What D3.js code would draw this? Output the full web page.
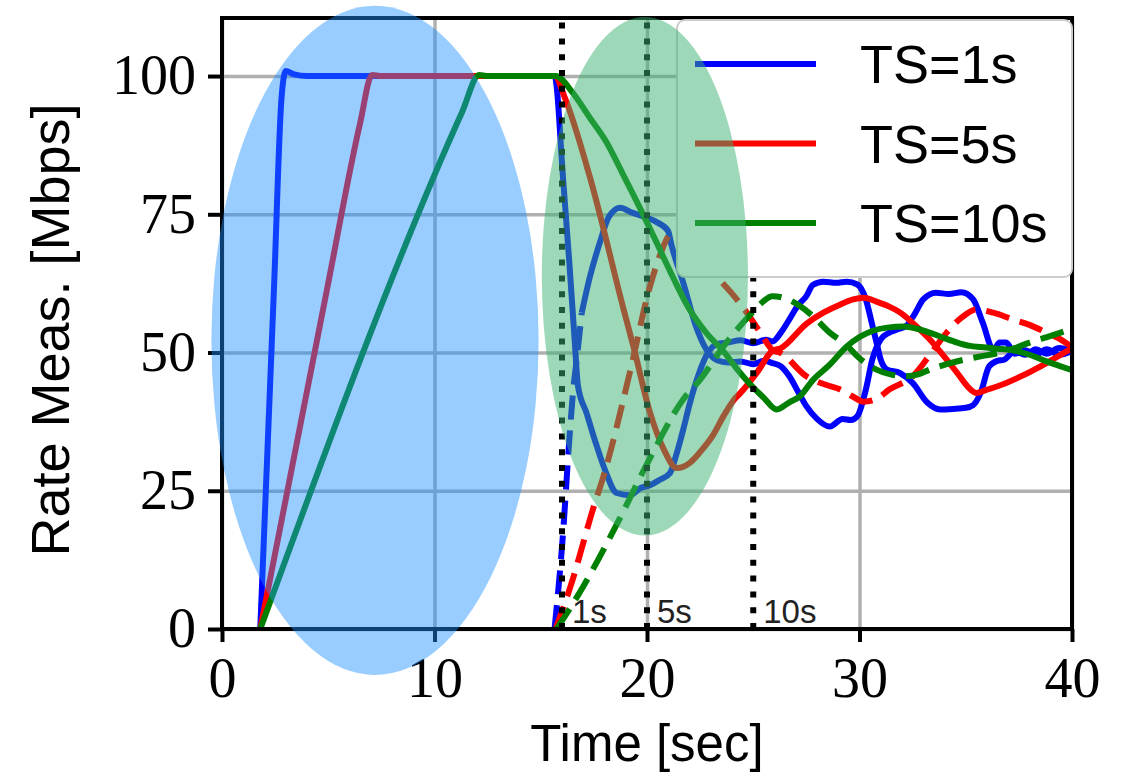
<!DOCTYPE html>
<html>
<head>
<meta charset="utf-8">
<script src="https://cdn.jsdelivr.net/npm/d3@7"></script>
<style>
  body { margin: 0; background: #fff; }
  svg { display: block; }
</style>
</head>
<body>
<div class="chart"></div>
<script>
var svgWidth = 1122;
var svgHeight = 780;

var margin = { top: 18, right: 50, bottom: 151, left: 222 };
var width = svgWidth - margin.left - margin.right;
var height = svgHeight - margin.top - margin.bottom;

// tick values
var xTicks = [0, 10, 20, 30, 40];
var yTicks = [0, 25, 50, 75, 100];

// [time (s), rate (Mbps)]
var blueFlow1 = [[1.8,0],[2.45,62],[2.8,96],[3.0,100.9],[3.4,100.3],[4.0,100],[15.65,100],[16.06,81],[16.35,66],[16.6,52],[16.75,44],[17.16,39],[17.6,33.5],[18.02,28.8],[18.57,24.6],[19.2,24.2],[19.7,25.5],[20.14,26],[20.6,27],[21.08,28.2],[21.4,31.8],[21.7,36],[22.02,40.9],[22.4,45.7],[22.8,49.5],[23.3,51.5],[23.8,51.8],[24.4,52.2],[25.0,51.7],[25.6,52.3],[25.9,52],[26.3,53.6],[26.7,56],[27.1,58.5],[27.5,60.2],[27.8,62.2],[28.3,62.8],[28.9,62.6],[29.4,62.8],[29.9,62.3],[30.3,59.6],[30.6,55],[30.8,51.8],[31.0,48.7],[31.3,46.9],[31.9,46.3],[32.5,44.5],[33.2,40.9],[33.8,39.7],[34.4,39.8],[35.0,40.0],[35.35,40.5],[35.7,42.7],[36.1,47.5],[36.5,48.5],[36.8,48.7],[37.3,50.2],[37.8,49.6],[38.3,50.6],[38.8,49.8],[39.4,50.8],[40,50.3]];
var blueFlow2Ramp = [[15.65,0],[16.06,17.9],[16.3,31.8],[16.53,43.3],[16.7,49],[16.93,57.2]];
var blueFlow2 = [[16.93,57.2],[17.3,63.5],[17.79,70],[18.2,74.5],[18.73,76.2],[19.3,75.3],[19.98,74.4],[20.5,73.5],[20.99,72],[21.16,69.3],[21.7,62.7],[22.3,54.8],[22.8,50.5],[23.3,48.6],[23.8,48.2],[24.4,48.4],[25.0,47.9],[25.5,48.5],[25.9,48.1],[26.3,47.5],[26.7,45.7],[27.1,43],[27.5,40.3],[28.0,38],[28.6,36.6],[29.2,38],[29.6,37.8],[29.9,38.5],[30.3,43.3],[30.6,48.7],[31.0,52.4],[31.4,53.6],[31.8,54.2],[32.2,54.8],[32.6,57],[33.0,59.6],[33.6,60.8],[34.2,60.6],[34.8,60.9],[35.35,59.6],[35.8,55.4],[36.3,50.5],[36.6,51.8],[36.9,51.8],[37.3,49.8],[37.8,50.4],[38.3,49.6],[38.8,50.6],[39.4,49.6],[40,50.3]];
var redFlow1 = [[1.8,0],[4.94,61.4],[6.5,91.5],[7.06,100.2],[7.5,100],[15.65,100],[16.14,96],[17.3,81.9],[18.9,57.8],[19.4,50.5],[20.1,39.7],[20.8,32.4],[21.4,29.1],[22.0,30],[22.5,32],[23.1,35],[23.6,38.5],[24.1,41.5],[24.4,42.7],[25.2,46.5],[25.9,50.3],[26.3,50.8],[27.5,55.2],[28.3,57.2],[29.1,58.7],[29.7,59.6],[30.2,59.9],[30.8,59.2],[31.4,58.3],[32.0,57],[32.6,55],[33.3,52.4],[34.0,49.2],[34.6,46.3],[35.1,43.8],[35.5,42.7],[36.0,43.3],[36.5,43.9],[37.6,45.7],[38.8,48.1],[40,50.8]];
var redFlow2 = [[15.7,0],[16.4,7.7],[17.5,22.2],[17.95,27.6],[19.2,46.5],[20.1,61.4],[20.7,68.5],[21.1,71.5],[21.5,72],[22.0,69.5],[22.7,66],[23.4,63.2],[24.1,60.2],[24.7,57.2],[25.3,53.8],[25.9,50.5],[26.3,49.9],[27.5,45.7],[28.3,44.3],[29.1,43.3],[29.7,42],[30.2,41.1],[30.8,41.6],[31.4,43.3],[32.5,45.7],[33.3,49.5],[34.1,53.6],[34.8,56.3],[35.5,57.8],[36.3,57.2],[37.2,56],[38.0,55],[38.8,53.6],[39.4,52.5],[40,51]];
var greenFlow1 = [[1.8,0],[11.3,93.5],[12.1,100.2],[12.5,100],[15.7,100],[16.5,97],[17.3,92.5],[18.1,88],[18.9,82],[19.7,75.9],[20.5,69.5],[21.2,63.8],[22.0,57.8],[22.8,53.5],[23.6,50.2],[24.2,47.2],[24.8,44.5],[25.5,41.8],[26.1,39.7],[26.7,41],[27.2,42.1],[27.8,45],[28.6,47.8],[29.4,51.1],[30.0,52.8],[30.6,53.9],[31.3,54.5],[32.1,54.7],[32.7,54.3],[33.3,53.6],[34.0,52.6],[34.6,51.8],[35.2,51.2],[35.7,51.0],[36.5,50.7],[37.2,50.4],[38.0,49.6],[38.8,48.4],[39.4,47.6],[40,46.8]];
var greenFlow2 = [[15.75,0],[17.0,7.7],[18.6,19.1],[20.1,30.6],[21.7,41.5],[22.5,45.1],[23.6,51.1],[24.8,56.6],[25.4,59],[25.9,60.2],[26.5,59.8],[27.2,58.4],[27.8,56.6],[28.6,53.6],[29.4,51.3],[29.9,49.3],[30.8,46.9],[31.5,46],[32.2,45.7],[32.8,46.1],[33.3,46.9],[34.1,47.9],[34.9,48.7],[35.7,49.3],[36.5,49.9],[37.3,50.8],[38.0,51.8],[39.0,53],[40,54.3]];

// timescale markers
var markerTimes = [16, 20, 25];
var markerLabels = ["1s", "5s", "10s"];

// legend
var legendLabels = ["TS=1s", "TS=5s", "TS=10s"];
var legendColors = ["#0000ff", "#ff0000", "#008000"];

// highlighted regions: [centre time, centre rate, half width (s), half height (Mbps)]
var rampZone = [7.2, 52.2, 7.7, 60.5];
var dropZone = [19.9, 63.8, 4.85, 46.9];

var svg = d3.select(".chart")
  .append("svg")
  .attr("width", svgWidth)
  .attr("height", svgHeight)
  .style("background", "#fff");

var chartGroup = svg.append("g")
  .attr("transform", `translate(${margin.left}, ${margin.top})`);

var xScale = d3.scaleLinear().domain([0, 40]).range([0, width]);
var yScale = d3.scaleLinear().domain([0, 110.5]).range([height, 0]);

// grid
var xGrid = chartGroup.append("g")
  .attr("transform", `translate(0, ${height})`)
  .call(d3.axisBottom(xScale).tickValues(xTicks).tickSize(-height).tickFormat(""));
var yGrid = chartGroup.append("g")
  .call(d3.axisLeft(yScale).tickValues(yTicks).tickSize(-width).tickFormat(""));
[xGrid, yGrid].forEach(function(g) {
  g.select(".domain").remove();
  g.selectAll("line").attr("stroke", "#b0b0b0").attr("stroke-width", 3.5);
});

chartGroup.append("clipPath").attr("id", "plotclip")
  .append("rect").attr("width", width).attr("height", height);

var line = d3.line()
  .x(d => xScale(d[0]))
  .y(d => yScale(d[1]))
  .curve(d3.curveMonotoneX);

var seriesList = [
  { data: blueFlow1, color: "#0000ff", dash: null },
  { data: blueFlow2Ramp, color: "#0000ff", dash: "24,11" },
  { data: blueFlow2, color: "#0000ff", dash: null },
  { data: redFlow1, color: "#ff0000", dash: null },
  { data: redFlow2, color: "#ff0000", dash: "24,11" },
  { data: greenFlow1, color: "#008000", dash: null },
  { data: greenFlow2, color: "#008000", dash: "24,11" }
];

var linesGroup = chartGroup.append("g").attr("clip-path", "url(#plotclip)");
linesGroup.selectAll("path")
  .data(seriesList)
  .enter()
  .append("path")
  .attr("d", d => line(d.data))
  .attr("fill", "none")
  .attr("stroke", d => d.color)
  .attr("stroke-width", 6)
  .attr("stroke-linejoin", "round")
  .attr("stroke-dasharray", d => d.dash);

// dotted timescale markers
chartGroup.selectAll(".marker")
  .data(markerTimes)
  .enter()
  .append("line")
  .attr("x1", d => xScale(d))
  .attr("x2", d => xScale(d))
  .attr("y1", yScale(0))
  .attr("y2", 0)
  .attr("stroke", "#000")
  .attr("stroke-width", 6)
  .attr("stroke-dasharray", "6,9.8");

chartGroup.selectAll(".markerText")
  .data(markerTimes)
  .enter()
  .append("text")
  .attr("x", d => xScale(d) + 10)
  .attr("y", yScale(0) - 6)
  .style("font-family", "'Liberation Sans', Arial, sans-serif")
  .style("font-size", "33px")
  .attr("fill", "#222")
  .text((d, i) => markerLabels[i]);

// frame
chartGroup.append("rect")
  .attr("width", width)
  .attr("height", height)
  .attr("fill", "none")
  .attr("stroke", "#000")
  .attr("stroke-width", 4);

var bottomAxis = chartGroup.append("g")
  .attr("transform", `translate(0, ${height})`)
  .call(d3.axisBottom(xScale).tickValues(xTicks).tickSize(13).tickPadding(15));
var leftAxis = chartGroup.append("g")
  .call(d3.axisLeft(yScale).tickValues(yTicks).tickSize(14).tickPadding(12));
[bottomAxis, leftAxis].forEach(function(g) {
  g.select(".domain").remove();
  g.selectAll("line").attr("stroke", "#000").attr("stroke-width", 4);
  g.selectAll("text")
    .attr("fill", "#000")
    .style("font-family", "'Liberation Serif', 'DejaVu Serif', serif")
    .style("font-size", "56px");
});

// axis labels
svg.append("text")
  .attr("transform", `translate(69, 330) rotate(-90)`)
  .attr("text-anchor", "middle")
  .style("font-family", "'Liberation Sans', Arial, sans-serif")
  .style("font-size", "54px")
  .text("Rate Meas. [Mbps]");

svg.append("text")
  .attr("x", margin.left + width / 2)
  .attr("y", 761)
  .attr("text-anchor", "middle")
  .style("font-family", "'Liberation Sans', Arial, sans-serif")
  .style("font-size", "51px")
  .text("Time [sec]");

// legend
var legend = svg.append("g");
legend.append("rect")
  .attr("x", 677)
  .attr("y", 20)
  .attr("width", 395)
  .attr("height", 257)
  .attr("rx", 8)
  .attr("fill", "#fff")
  .attr("stroke", "#cccccc")
  .attr("stroke-width", 2);

var legendRows = legend.selectAll(".row")
  .data(legendLabels)
  .enter()
  .append("g")
  .attr("transform", (d, i) => `translate(0, ${64 + i * 79.5})`);
legendRows.append("line")
  .attr("x1", 695)
  .attr("x2", 816)
  .attr("stroke", (d, i) => legendColors[i])
  .attr("stroke-width", 6);
legendRows.append("text")
  .attr("x", 860)
  .attr("y", 19)
  .style("font-family", "'Liberation Sans', Arial, sans-serif")
  .style("font-size", "54px")
  .text(d => d);

// highlighted regions on top
var zones = [
  { z: rampZone, fill: "dodgerblue", alpha: 0.45 },
  { z: dropZone, fill: "mediumseagreen", alpha: 0.5 }
];
svg.selectAll(".zone")
  .data(zones)
  .enter()
  .append("ellipse")
  .attr("cx", d => margin.left + xScale(d.z[0]))
  .attr("cy", d => margin.top + yScale(d.z[1]))
  .attr("rx", d => xScale(d.z[2]) - xScale(0))
  .attr("ry", d => yScale(0) - yScale(d.z[3]))
  .attr("fill", d => d.fill)
  .attr("fill-opacity", d => d.alpha);
</script>
</body>
</html>
